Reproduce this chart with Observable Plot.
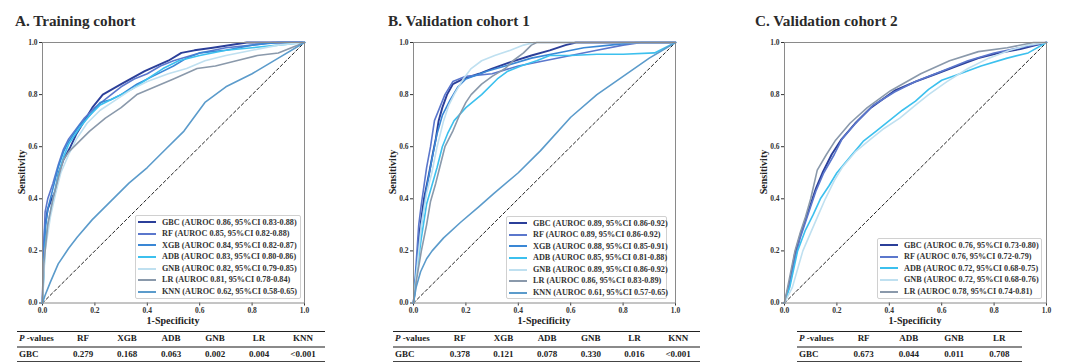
<!DOCTYPE html>
<html><head><meta charset="utf-8">
<script src="https://cdn.jsdelivr.net/npm/d3@7"></script>
<script src="https://cdn.jsdelivr.net/npm/@observablehq/plot@0.6"></script>
<style>
body{margin:0;background:#fff;width:1080px;height:362px;overflow:hidden;position:relative;font-family:"Liberation Serif","Times New Roman",serif;color:#222;}
.title{position:absolute;font-weight:bold;font-size:15.2px;white-space:nowrap;color:#2a2a2a;}
.ylab{position:absolute;font-weight:bold;font-size:10px;white-space:nowrap;transform:translate(-50%,-50%) rotate(-90deg);}
.xlab{position:absolute;font-weight:bold;font-size:10px;white-space:nowrap;transform:translate(-50%,-50%);}
.legend{position:absolute;background:#fff;border:1px solid #d0d0d0;border-radius:2px;box-sizing:border-box;padding:0 0 0 2px;font-size:8.2px;font-weight:bold;color:#333;}
.legend div{height:11.6px;line-height:11.6px;white-space:nowrap;}
.legend span.sw{display:inline-block;width:18px;height:2px;vertical-align:middle;margin-right:6px;margin-top:-1px;}
table.pt{position:absolute;border-collapse:collapse;table-layout:fixed;font-size:9px;font-weight:bold;color:#222;}
table.pt td{text-align:center;padding:0;height:13.5px;line-height:13.5px;}
table.pt td:first-child{text-align:left;padding-left:2px;}
table.pt tr.h td{border-top:1.5px solid #222;border-bottom:2px solid #8a8a8a;}
table.pt tr.v td{border-bottom:1.5px solid #444;}
</style></head>
<body>
<script>
// ---------------- data ----------------
const tickValues = [0, 0.2, 0.4, 0.6, 0.8, 1.0];
const diagonal = [[0, 0], [1, 1]];
const modelNames = ["GBC", "RF", "XGB", "ADB", "GNB", "LR", "KNN"];
const modelColors = ["#2b3f99", "#5b77cc", "#3a87d5", "#3cc0ee", "#bfe0f0", "#8a99ab", "#5b9bcb"];

// Panel A: Training cohort  ([1-specificity, sensitivity])
const A_GBC = [[0,0],[0.005,0.2],[0.01,0.3],[0.02,0.36],[0.035,0.4],[0.05,0.43],[0.062,0.5],[0.08,0.55],[0.107,0.6],[0.13,0.65],[0.16,0.7],[0.19,0.75],[0.23,0.8],[0.3,0.84],[0.39,0.89],[0.48,0.93],[0.53,0.96],[0.58,0.97],[0.65,0.98],[0.78,1],[1,1]];
const A_RF  = [[0,0],[0.005,0.22],[0.01,0.35],[0.02,0.4],[0.04,0.46],[0.06,0.53],[0.08,0.59],[0.1,0.63],[0.13,0.67],[0.16,0.71],[0.2,0.75],[0.25,0.79],[0.3,0.83],[0.35,0.86],[0.4,0.88],[0.45,0.91],[0.5,0.93],[0.6,0.96],[0.7,0.98],[0.8,0.99],[0.88,1],[1,1]];
const A_XGB = [[0,0],[0.01,0.28],[0.02,0.36],[0.04,0.44],[0.06,0.52],[0.08,0.58],[0.1,0.62],[0.14,0.68],[0.18,0.72],[0.22,0.77],[0.26,0.78],[0.3,0.8],[0.36,0.84],[0.42,0.87],[0.5,0.91],[0.55,0.94],[0.6,0.96],[0.7,0.97],[0.8,0.99],[0.9,1],[1,1]];
const A_ADB = [[0,0],[0.01,0.22],[0.02,0.3],[0.04,0.4],[0.06,0.49],[0.08,0.56],[0.1,0.61],[0.14,0.67],[0.18,0.72],[0.22,0.76],[0.28,0.79],[0.34,0.82],[0.4,0.86],[0.46,0.9],[0.52,0.93],[0.6,0.95],[0.7,0.97],[0.8,0.98],[0.9,0.99],[1,1]];
const A_GNB = [[0,0],[0.01,0.2],[0.03,0.33],[0.05,0.42],[0.07,0.5],[0.1,0.57],[0.13,0.63],[0.17,0.69],[0.22,0.74],[0.28,0.78],[0.34,0.82],[0.4,0.85],[0.48,0.88],[0.55,0.9],[0.62,0.93],[0.7,0.95],[0.8,0.97],[0.9,0.99],[1,1]];
const A_LR  = [[0,0],[0.005,0.15],[0.02,0.3],[0.04,0.4],[0.06,0.48],[0.08,0.55],[0.1,0.58],[0.13,0.61],[0.18,0.66],[0.24,0.71],[0.3,0.75],[0.36,0.8],[0.43,0.83],[0.5,0.86],[0.59,0.9],[0.66,0.91],[0.74,0.93],[0.82,0.95],[0.9,0.96],[0.95,0.98],[1,1]];
const A_KNN = [[0,0],[0.01,0.03],[0.03,0.08],[0.06,0.15],[0.1,0.21],[0.133,0.253],[0.19,0.32],[0.26,0.39],[0.33,0.46],[0.4,0.52],[0.47,0.59],[0.54,0.66],[0.62,0.77],[0.7,0.83],[0.8,0.88],[0.9,0.94],[1,1]];
const A_legend = ["GBC (AUROC 0.86, 95%CI 0.83-0.88)","RF (AUROC 0.85, 95%CI 0.82-0.88)","XGB (AUROC 0.84, 95%CI 0.82-0.87)","ADB (AUROC 0.83, 95%CI 0.80-0.86)","GNB (AUROC 0.82, 95%CI 0.79-0.85)","LR (AUROC 0.81, 95%CI 0.78-0.84)","KNN (AUROC 0.62, 95%CI 0.58-0.65)"];
const A_pHeaders = ["RF","XGB","ADB","GNB","LR","KNN"];
const A_pValues = ["0.279","0.168","0.063","0.002","0.004","<0.001"];

// Panel B: Validation cohort 1
const B_GBC = [[0,0],[0.01,0.1],[0.02,0.25],[0.04,0.4],[0.06,0.5],[0.075,0.58],[0.085,0.63],[0.096,0.7],[0.11,0.75],[0.128,0.8],[0.15,0.84],[0.19,0.86],[0.25,0.88],[0.3,0.9],[0.37,0.925],[0.45,0.95],[0.52,0.97],[0.58,0.99],[0.62,1],[1,1]];
const B_RF  = [[0,0],[0.01,0.15],[0.02,0.3],[0.03,0.38],[0.04,0.45],[0.05,0.52],[0.065,0.6],[0.08,0.7],[0.1,0.75],[0.12,0.8],[0.15,0.85],[0.2,0.87],[0.3,0.88],[0.4,0.91],[0.5,0.93],[0.6,0.95],[0.7,0.97],[0.8,0.99],[0.87,1],[1,1]];
const B_XGB = [[0,0],[0.01,0.12],[0.03,0.3],[0.05,0.44],[0.07,0.55],[0.09,0.65],[0.11,0.72],[0.14,0.78],[0.17,0.83],[0.2,0.86],[0.28,0.89],[0.35,0.91],[0.45,0.94],[0.55,0.96],[0.65,0.98],[0.75,0.99],[0.85,1],[1,1]];
const B_ADB = [[0,0],[0.01,0.1],[0.03,0.25],[0.05,0.38],[0.07,0.45],[0.09,0.52],[0.11,0.6],[0.13,0.65],[0.155,0.7],[0.2,0.75],[0.26,0.8],[0.32,0.86],[0.36,0.89],[0.41,0.91],[0.47,0.93],[0.52,0.95],[0.6,0.95],[0.7,0.955],[0.8,0.955],[0.92,0.96],[1,1]];
const B_GNB = [[0,0],[0.01,0.1],[0.03,0.3],[0.05,0.42],[0.07,0.5],[0.09,0.6],[0.115,0.7],[0.135,0.76],[0.155,0.8],[0.19,0.86],[0.22,0.9],[0.26,0.93],[0.31,0.95],[0.37,0.97],[0.42,0.99],[0.46,1],[1,1]];
const B_LR  = [[0,0],[0.01,0.08],[0.03,0.2],[0.05,0.3],[0.065,0.39],[0.085,0.46],[0.1,0.52],[0.12,0.6],[0.15,0.66],[0.175,0.72],[0.2,0.77],[0.22,0.8],[0.26,0.84],[0.3,0.87],[0.35,0.9],[0.38,0.93],[0.42,0.96],[0.45,0.99],[0.47,1],[1,1]];
const B_KNN = [[0,0],[0.01,0.06],[0.027,0.12],[0.05,0.17],[0.071,0.2],[0.115,0.25],[0.18,0.31],[0.25,0.37],[0.306,0.42],[0.4,0.5],[0.485,0.585],[0.6,0.713],[0.7,0.8],[0.8,0.87],[0.9,0.94],[1,1]];
const B_legend = ["GBC (AUROC 0.89, 95%CI 0.86-0.92)","RF (AUROC 0.89, 95%CI 0.86-0.92)","XGB (AUROC 0.88, 95%CI 0.85-0.91)","ADB (AUROC 0.85, 95%CI 0.81-0.88)","GNB (AUROC 0.89, 95%CI 0.86-0.92)","LR (AUROC 0.86, 95%CI 0.83-0.89)","KNN (AUROC 0.61, 95%CI 0.57-0.65)"];
const B_pHeaders = ["RF","XGB","ADB","GNB","LR","KNN"];
const B_pValues = ["0.378","0.121","0.078","0.330","0.016","<0.001"];

// Panel C: Validation cohort 2
const C_models = ["GBC", "RF", "ADB", "GNB", "LR"];
const C_GBC = [[0,0],[0.02,0.08],[0.04,0.19],[0.06,0.26],[0.08,0.32],[0.1,0.38],[0.12,0.44],[0.145,0.5],[0.18,0.57],[0.215,0.625],[0.27,0.69],[0.33,0.75],[0.42,0.815],[0.5,0.85],[0.58,0.88],[0.66,0.91],[0.74,0.94],[0.82,0.96],[0.9,0.975],[0.96,0.99],[1,1]];
const C_RF  = [[0,0],[0.02,0.07],[0.04,0.17],[0.06,0.25],[0.08,0.31],[0.1,0.37],[0.12,0.43],[0.15,0.5],[0.19,0.57],[0.22,0.63],[0.28,0.7],[0.34,0.76],[0.42,0.81],[0.5,0.85],[0.6,0.89],[0.7,0.93],[0.8,0.96],[0.9,0.98],[1,1]];
const C_ADB = [[0,0],[0.02,0.06],[0.05,0.2],[0.08,0.28],[0.11,0.34],[0.137,0.4],[0.17,0.45],[0.2,0.5],[0.25,0.56],[0.3,0.62],[0.35,0.66],[0.4,0.7],[0.45,0.74],[0.5,0.775],[0.55,0.82],[0.6,0.855],[0.67,0.88],[0.75,0.91],[0.85,0.94],[0.93,0.96],[1,1]];
const C_GNB = [[0,0],[0.03,0.06],[0.07,0.2],[0.1,0.27],[0.13,0.34],[0.156,0.4],[0.19,0.47],[0.22,0.52],[0.27,0.58],[0.33,0.63],[0.38,0.67],[0.44,0.71],[0.5,0.76],[0.55,0.8],[0.62,0.85],[0.7,0.9],[0.78,0.94],[0.86,0.97],[0.93,0.99],[1,1]];
const C_LR  = [[0,0],[0.02,0.1],[0.04,0.2],[0.06,0.27],[0.08,0.33],[0.1,0.4],[0.125,0.51],[0.16,0.57],[0.195,0.625],[0.25,0.69],[0.316,0.75],[0.405,0.815],[0.52,0.88],[0.63,0.93],[0.74,0.965],[0.85,0.98],[0.95,1],[1,1]];
const C_legend = ["GBC (AUROC 0.76, 95%CI 0.73-0.80)","RF (AUROC 0.76, 95%CI 0.72-0.79)","ADB (AUROC 0.72, 95%CI 0.68-0.75)","GNB (AUROC 0.72, 95%CI 0.68-0.76)","LR (AUROC 0.78, 95%CI 0.74-0.81)"];
const C_pHeaders = ["RF","ADB","GNB","LR"];
const C_pValues = ["0.673","0.044","0.011","0.708"];

const titles = ["A. Training cohort", "B. Validation cohort 1", "C. Validation cohort 2"];

// ---------------- drawing ----------------
const serifStack = "'Liberation Serif', 'Times New Roman', serif";
const colorOf = name => modelColors[modelNames.indexOf(name)];

function rocPlot(seriesList) {
  return Plot.plot({
    width: 330, height: 330,
    marginLeft: 42, marginRight: 26, marginTop: 42, marginBottom: 27.5,
    x: {domain: [0, 1], ticks: tickValues, tickFormat: d3.format(".1f"), label: null, tickSize: 3, tickPadding: 2},
    y: {domain: [0, 1], ticks: tickValues, tickFormat: d3.format(".1f"), label: null, tickSize: 3, tickPadding: 2},
    style: {fontFamily: serifStack, fontSize: "7.5px", fontWeight: "bold", color: "#333", background: "transparent", overflow: "visible"},
    marks: [
      Plot.line(diagonal, {x: d => d[0], y: d => d[1], stroke: "#222", strokeWidth: 1, strokeDasharray: "3,2.5"}),
      ...seriesList.map(([name, pts]) => Plot.line(pts, {x: d => d[0], y: d => d[1], stroke: colorOf(name), strokeWidth: name === "GBC" ? 1.9 : 1.6, curve: "linear"})),
      Plot.frame({stroke: "#8a8a8a", strokeWidth: 1})
    ]
  });
}

function addPanel(left, title, titleLeft, seriesList, legendNames, legendTexts, legendBox, pHeaders, pValues, table) {
  const svg = rocPlot(seriesList);
  svg.style.position = "absolute";
  svg.style.left = left + "px";
  svg.style.top = "0px";
  document.body.appendChild(svg);

  const t = document.createElement("div");
  t.className = "title"; t.textContent = title;
  t.style.left = titleLeft + "px"; t.style.top = "12px";
  document.body.appendChild(t);

  const yl = document.createElement("div");
  yl.className = "ylab"; yl.textContent = "Sensitivity";
  yl.style.left = (left + 21) + "px"; yl.style.top = "172px";
  document.body.appendChild(yl);

  const xl = document.createElement("div");
  xl.className = "xlab"; xl.textContent = "1-Specificity";
  xl.style.left = (left + 42 + 131) + "px"; xl.style.top = "320px";
  document.body.appendChild(xl);

  const lg = document.createElement("div");
  lg.className = "legend";
  Object.assign(lg.style, {left: legendBox[0] + "px", top: legendBox[1] + "px", width: legendBox[2] + "px", height: legendBox[3] + "px", paddingTop: "0.5px"});
  legendNames.forEach((n, i) => {
    const row = document.createElement("div");
    const sw = document.createElement("span");
    sw.className = "sw"; sw.style.background = colorOf(n);
    row.appendChild(sw);
    row.appendChild(document.createTextNode(legendTexts[i]));
    lg.appendChild(row);
  });
  document.body.appendChild(lg);

  const tb = document.createElement("table");
  tb.className = "pt";
  Object.assign(tb.style, {left: table[0] + "px", top: table[1] + "px", width: table[2] + "px"});
  const cg = document.createElement("colgroup");
  const firstW = table[3];
  const restW = (table[2] - firstW) / pHeaders.length;
  [firstW, ...pHeaders.map(() => restW)].forEach(w => { const c = document.createElement("col"); c.style.width = w + "px"; cg.appendChild(c); });
  tb.appendChild(cg);
  const h = document.createElement("tr"); h.className = "h";
  const h0 = document.createElement("td"); h0.innerHTML = "<i>P</i> -values"; h.appendChild(h0);
  pHeaders.forEach(x => { const c = document.createElement("td"); c.textContent = x; h.appendChild(c); });
  const v = document.createElement("tr"); v.className = "v";
  const v0 = document.createElement("td"); v0.textContent = "GBC"; v.appendChild(v0);
  pValues.forEach(x => { const c = document.createElement("td"); c.textContent = x; v.appendChild(c); });
  tb.appendChild(h); tb.appendChild(v);
  document.body.appendChild(tb);
}

addPanel(0, titles[0], 15,
  [["GBC", A_GBC], ["RF", A_RF], ["XGB", A_XGB], ["ADB", A_ADB], ["GNB", A_GNB], ["LR", A_LR], ["KNN", A_KNN]],
  modelNames, A_legend, [135, 215, 166, 84], A_pHeaders, A_pValues, [17, 331, 308, 44]);
addPanel(371, titles[1], 388,
  [["GBC", B_GBC], ["RF", B_RF], ["XGB", B_XGB], ["ADB", B_ADB], ["GNB", B_GNB], ["LR", B_LR], ["KNN", B_KNN]],
  modelNames, B_legend, [506, 216, 161, 83], B_pHeaders, B_pValues, [393, 331, 307, 45]);
addPanel(742, titles[2], 755,
  [["GBC", C_GBC], ["RF", C_RF], ["ADB", C_ADB], ["GNB", C_GNB], ["LR", C_LR]],
  C_models, C_legend, [877, 238, 165, 61], C_pHeaders, C_pValues, [797, 331, 225, 44]);
</script>
</body></html>
